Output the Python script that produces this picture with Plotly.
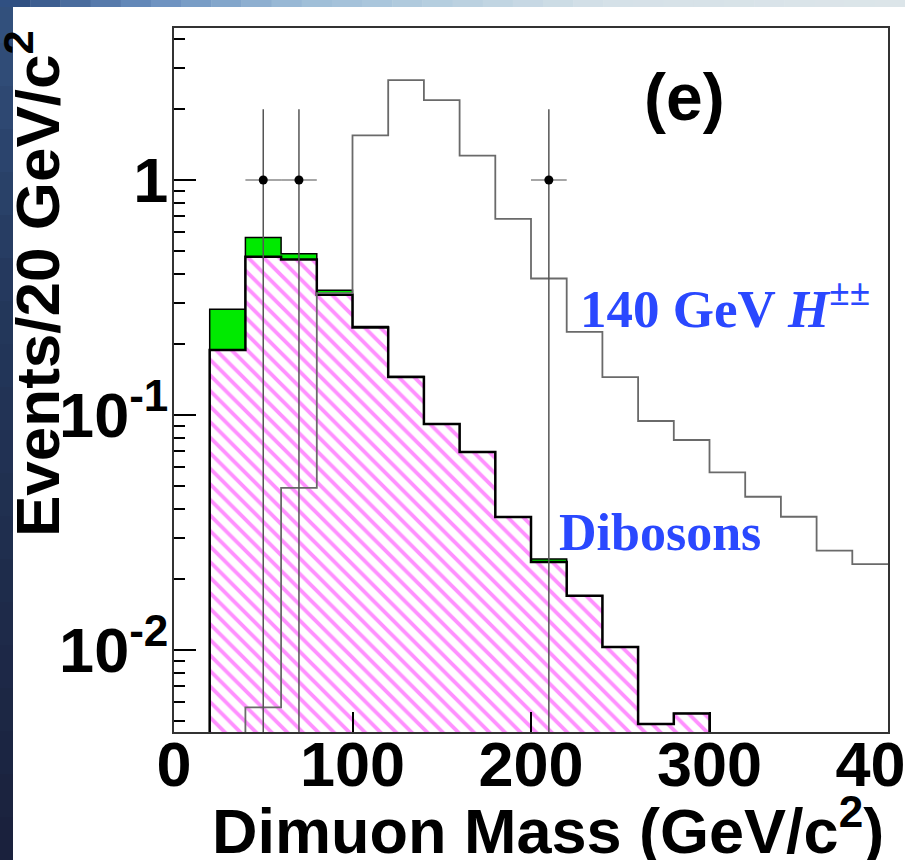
import numpy as np
import plotly.graph_objects as go

# ---------------- data ----------------
BIN_W = 20
bkg_lo = list(range(20, 300, 20))            # lower edges of background bins
diboson = [0.189, 0.472, 0.459, 0.325, 0.236, 0.145, 0.0916, 0.0696,
           0.0368, 0.0237, 0.0170, 0.0103, 0.00484, 0.00537]
other_bkg = [0.093, 0.098, 0.027, 0.015, 0.002, 0.001, 0.0, 0.0,
             0.0, 0.0007, 0.0, 0.0, 0.0, 0.0]
hpp_lo = list(range(40, 400, 20))            # lower edges of signal bins
hpp_140 = [0.0057, 0.049, 0.33, 1.55, 2.66, 2.19, 1.27, 0.683, 0.381,
           0.226, 0.145, 0.0943, 0.0783, 0.057, 0.0449, 0.0369, 0.0265, 0.0232]
data_x = [50, 70, 210]
data_n = [1, 1, 1]

x_ticks = [0, 100, 200, 300, 400]
y_ticks = [0.01, 0.1, 1]
y_ticktext = ["10<sup>-2</sup>", "10<sup>-1</sup>", "1"]

# ---------------- geometry ----------------
W, H = 905, 860
L, R, T, B = 174, 888, 28, 732          # plot area in pixels
Y_RANGE = [-2.349, 0.647]
BASE = 10 ** (Y_RANGE[0] - 0.5)         # below visible range -> clipped


def px(x):
    return (x - L) / (R - L)


def py(y):
    return (B - y) / (B - T)


def step(lo, vals, width, drop_end=True):
    xs, ys = [lo[0]], [BASE]
    for x, v in zip(lo, vals):
        xs.append(x)
        ys.append(v)
    xs.append(lo[-1] + width)
    ys.append(vals[-1])
    if drop_end:
        xs.append(lo[-1] + width)
        ys.append(BASE)
    return xs, ys


total = list(np.array(diboson) + np.array(other_bkg))

fig = go.Figure()

# green: other backgrounds stacked on top of dibosons
gx, gy = step(bkg_lo, total, BIN_W)
fig.add_trace(go.Scatter(x=gx, y=gy, mode="lines", line_shape="hv",
                         fill="toself", fillcolor="#00ea00",
                         line=dict(color="black", width=1.5),
                         hoverinfo="skip", showlegend=False))

# dibosons: magenta hatched
dx, dy = step(bkg_lo, diboson, BIN_W)
fig.add_trace(go.Scatter(x=dx, y=dy, mode="lines", line_shape="hv",
                         fill="toself", fillcolor="white",
                         fillpattern=dict(shape="\\", fgcolor="#ff22ff",
                                          bgcolor="white", size=11,
                                          solidity=0.35),
                         line=dict(color="black", width=2.5),
                         hoverinfo="skip", showlegend=False))

# 140 GeV H++ signal
hx, hy = step(hpp_lo, hpp_140, BIN_W, drop_end=False)
fig.add_trace(go.Scatter(x=hx, y=hy, mode="lines", line_shape="hv",
                         line=dict(color="#6a6a6a", width=1.8),
                         hoverinfo="skip", showlegend=False))

# data points
err = list(np.sqrt(data_n))
fig.add_trace(go.Scatter(
    x=data_x, y=data_n, mode="markers",
    marker=dict(color="black", size=9),
    error_y=dict(type="data", array=err, arrayminus=err, color="#555555",
                 thickness=1.5, width=0),
    error_x=dict(type="constant", value=BIN_W / 2, color="#888888",
                 thickness=1.5, width=0),
    hoverinfo="skip", showlegend=False))

# ---------------- slide background decoration ----------------
shapes = []
top_stops = [(0, (42, 74, 124)), (150, (106, 143, 191)), (300, (157, 189, 216)),
             (450, (184, 208, 224)), (600, (213, 225, 232)), (905, (221, 230, 234))]


def interp(stops, v):
    for (a, ca), (b, cb) in zip(stops[:-1], stops[1:]):
        if a <= v <= b:
            t = (v - a) / (b - a)
            return tuple(int(ca[i] + t * (cb[i] - ca[i])) for i in range(3))
    return stops[-1][1]


n = 30
for i in range(n):
    x0 = W * i / n
    x1 = W * (i + 1) / n
    c = interp(top_stops, (x0 + x1) / 2)
    shapes.append(dict(type="rect", xref="paper", yref="paper",
                       x0=px(x0), x1=px(x1 + 0.5), y0=py(7), y1=py(0),
                       fillcolor="rgb(%d,%d,%d)" % c, line=dict(width=0),
                       layer="below"))
left_stops = [(0, (52, 82, 127)), (300, (36, 56, 92)), (860, (26, 33, 60))]
m = 20
for i in range(m):
    y0 = H * i / m
    y1 = H * (i + 1) / m
    c = interp(left_stops, (y0 + y1) / 2)
    shapes.append(dict(type="rect", xref="paper", yref="paper",
                       x0=px(0), x1=px(13), y0=py(y1 + 0.5),
                       y1=py(max(y0, 7) if i == 0 else y0),
                       fillcolor="rgb(%d,%d,%d)" % c, line=dict(width=0),
                       layer="below"))

axis_font = dict(family="Liberation Sans", size=63, color="black", weight="bold")

minor_y = [k * 10.0 ** e for e in (-3, -2, -1, 0) for k in range(2, 10)
           if Y_RANGE[0] <= np.log10(k * 10.0 ** e) <= Y_RANGE[1]]

fig.update_layout(
    width=W, height=H,
    margin=dict(l=L, r=W - R, t=T, b=H - B, pad=0),
    paper_bgcolor="white", plot_bgcolor="white",
    shapes=shapes,
    xaxis=dict(range=[0, 400], tickvals=x_ticks, ticks="inside", ticklen=20,
               tickwidth=2, tickcolor="black", showline=True,
               linecolor="#333333", linewidth=2, mirror=True,
               showgrid=False, zeroline=False, tickfont=axis_font,
               ticklabeloverflow="allow", ticklabelstandoff=-24,
               automargin=False),
    yaxis=dict(type="log", range=Y_RANGE, tickvals=y_ticks,
               ticktext=y_ticktext, ticks="inside", ticklen=22, tickwidth=2,
               tickcolor="black", showline=True, linecolor="#333333",
               linewidth=2, mirror=True, showgrid=False, zeroline=False,
               tickfont=axis_font, ticklabelstandoff=-9, automargin=False,
               minor=dict(tickmode="array", tickvals=minor_y, ticks="inside",
                          ticklen=11, tickwidth=2, tickcolor="black",
                          showgrid=False)),
    annotations=[
        dict(text="(e)", xref="paper", yref="paper", x=px(684), y=py(97),
             xanchor="center", yanchor="middle", showarrow=False,
             font=dict(family="Liberation Sans", size=66, color="black",
                       weight="bold")),
        dict(text="140 GeV <i>H</i><sup>±±</sup>", xref="paper", yref="paper",
             x=px(578), y=py(305), xanchor="left", yanchor="middle",
             showarrow=False,
             font=dict(family="Liberation Sans", size=53, color="#2a48ff",
                       weight="bold") if False else
             dict(family="Liberation Serif", size=53, color="#2a48ff",
                  weight="bold")),
        dict(text="Dibosons", xref="paper", yref="paper",
             x=px(557), y=py(532), xanchor="left", yanchor="middle",
             showarrow=False,
             font=dict(family="Liberation Serif", size=52, color="#2a48ff",
                       weight="bold")),
        dict(text="Events/20 GeV/c<sup>2</sup>", xref="paper", yref="paper",
             x=px(33), y=py(284), xanchor="center", yanchor="middle",
             textangle=-90, showarrow=False,
             font=dict(family="Liberation Sans", size=62, color="black",
                       weight="bold")),
        dict(text="Dimuon Mass (GeV/c<sup>2</sup>)", xref="paper", yref="paper",
             x=px(886), y=py(826), xanchor="right", yanchor="middle",
             showarrow=False,
             font=dict(family="Liberation Sans", size=63, color="black",
                       weight="bold")),
    ],
)

fig.write_html("out.html", config={"displayModeBar": False},
               post_script="document.body.style.margin='0';")
